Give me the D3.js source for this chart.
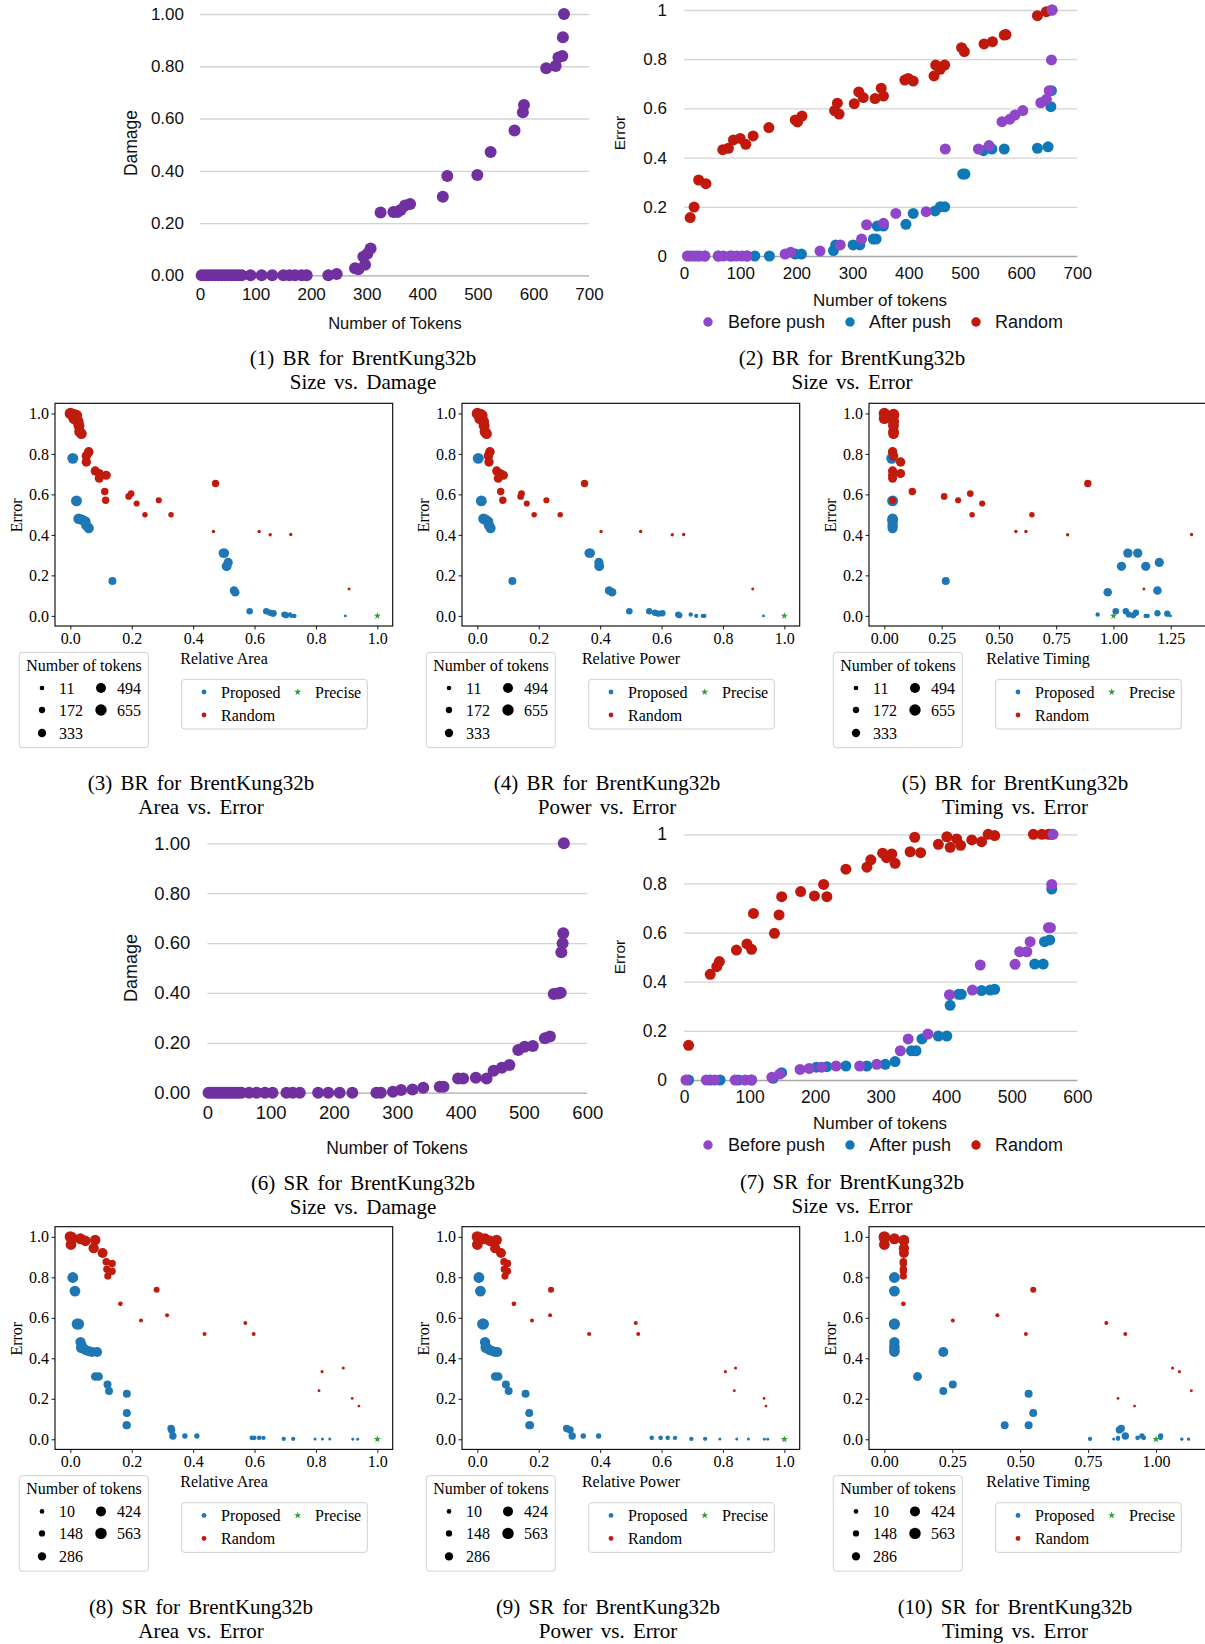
<!DOCTYPE html>
<html>
<head>
<meta charset="utf-8">
<script src="https://cdn.jsdelivr.net/npm/d3@7"></script>
<style>
  body { margin: 0; background: #fff; }
</style>
</head>
<body>
<script>

// ---------- data: BR size vs damage (1) ----------
const brDmgTok = [3,9,15,21,27,33,39,45,51,57,63,69,75,91,111,130,150,161,171,183,192,231,246,279,285,294,297,301,307,325,348,355,361,369,378,437,445,499,523,566,581,583,623,640,645,652,653,655];
const brDmg = [0,0,0,0,0,0,0,0,0,0,0,0,0,0,0,0,0,0,0,0,0,0,0.005,0.027,0.023,0.071,0.04,0.082,0.103,0.24,0.242,0.242,0.25,0.267,0.273,0.301,0.38,0.384,0.472,0.554,0.624,0.652,0.792,0.801,0.834,0.839,0.911,1.0];

// ---------- data: BR size vs error (2) ----------
const brRandTok = [11,18,26,39,69,79,88,100,110,123,151,198,202,210,268,273,276,303,311,319,340,351,355,393,399,408,445,448,456,464,494,499,534,549,570,573,629,645,655];
const brRandErr = [0.156,0.199,0.309,0.294,0.432,0.438,0.472,0.478,0.454,0.488,0.522,0.553,0.545,0.569,0.591,0.621,0.577,0.619,0.667,0.644,0.64,0.682,0.65,0.715,0.722,0.711,0.732,0.776,0.759,0.776,0.847,0.831,0.862,0.871,0.898,0.9,0.977,0.993,1.0];
const brBeforeTok = [6,17,28,37,61,70,82,94,103,112,180,190,242,278,316,325,355,377,431,465,524,543,566,580,589,603,635,645,650,654,655];
const brBeforeErr = [0,0,0,0,0,0,0,0,0,0,0.008,0.015,0.02,0.045,0.069,0.127,0.133,0.173,0.18,0.435,0.435,0.449,0.546,0.556,0.573,0.591,0.623,0.637,0.672,0.797,1.0];
const brAfterTok = [11,23,37,61,85,112,126,152,198,209,266,270,301,313,337,342,344,355,395,408,447,456,464,496,500,533,548,570,629,648,653,654];
const brAfterErr = [0,0,0,0,0,0,0,0,0.008,0.008,0.022,0.045,0.045,0.045,0.069,0.069,0.122,0.122,0.129,0.173,0.183,0.2,0.2,0.333,0.333,0.428,0.435,0.435,0.438,0.444,0.607,0.672];

// ---------- data: BR area / power / timing vs error (3-5) ----------
const brPropErr   = [0.778,0.568,0.48,0.475,0.466,0.447,0.434,0.31,0.31,0.264,0.245,0.245,0.172,0.125,0.117,0.023,0.023,0.015,0.013,0.011,0.007,0.003,0.007,0,0,0,0];
const brPropTok   = [600,600,560,550,540,530,520,430,430,420,420,420,300,350,350,190,180,180,170,170,160,160,60,50,50,50,2];
const brPropArea  = [0.008,0.02,0.027,0.038,0.049,0.052,0.06,0.498,0.502,0.514,0.508,0.51,0.137,0.533,0.537,0.584,0.638,0.651,0.662,0.66,0.697,0.703,0.716,0.729,0.72,0.73,0.896];
const brPropPower = [0.003,0.013,0.02,0.027,0.035,0.038,0.043,0.364,0.368,0.396,0.396,0.398,0.114,0.429,0.439,0.495,0.56,0.579,0.603,0.59,0.654,0.658,0.695,0.713,0.734,0.74,0.932];
const brPropTime  = [0.032,0.036,0.036,0.036,0.036,0.036,0.036,1.063,1.106,1.2,1.035,1.141,0.268,1.192,0.975,1.01,1.054,1.098,1.192,1.235,1.067,1.086,0.931,1.144,1.15,1.14,1.249];

const brRndErr   = [1.0,0.995,0.99,0.975,0.96,0.94,0.91,0.9,0.81,0.79,0.76,0.716,0.703,0.695,0.68,0.654,0.614,0.604,0.59,0.571,0.571,0.555,0.5,0.5,0.417,0.417,0.401,0.402,0.133];
const brRndTok   = [655,650,640,630,620,600,580,570,450,440,430,410,400,400,390,250,260,200,200,250,160,160,120,120,20,20,18,18,3];
const brRndArea  = [0,0.01,0.02,0.012,0.025,0.028,0.03,0.036,0.06,0.052,0.052,0.081,0.094,0.117,0.094,0.473,0.112,0.198,0.19,0.115,0.288,0.216,0.243,0.328,0.466,0.615,0.651,0.718,0.908];
const brRndPower = [0,0.01,0.015,0.008,0.02,0.022,0.025,0.03,0.041,0.036,0.038,0.063,0.074,0.085,0.068,0.349,0.076,0.144,0.141,0.083,0.225,0.161,0.185,0.27,0.403,0.532,0.635,0.672,0.897];
const brRndTime  = [0,0.04,0.04,0,0.04,0.04,0.04,0.04,0.036,0.04,0.071,0.036,0.071,0.036,0.036,0.888,0.122,0.375,0.261,0.036,0.322,0.427,0.383,0.644,0.574,0.618,0.8,1.341,1.133];
const brSizeTicks = [11,172,333,494,655];

// ---------- data: SR size vs damage (6) ----------
const srDmgTok = [2,6,10,14,18,22,26,30,34,38,42,46,50,54,66,78,91,103,125,135,146,175,191,209,229,267,274,293,306,324,341,367,373,396,404,424,441,452,465,477,491,501,514,533,541,547,554,558,559,561,562,563];
const srDmg = [0,0,0,0,0,0,0,0,0,0,0,0,0,0,0,0,0,0,0,0,0,0,0,0,0,0,0,0.004,0.011,0.013,0.02,0.024,0.024,0.057,0.057,0.06,0.057,0.088,0.1,0.111,0.171,0.184,0.187,0.218,0.225,0.396,0.398,0.401,0.563,0.599,0.639,1.0];

// ---------- data: SR size vs error (7) ----------
const srRandTok = [7,40,50,54,80,96,103,106,138,145,149,178,199,213,218,247,279,285,303,309,317,322,345,352,361,388,401,406,416,422,439,454,464,474,533,546,556,561];
const srRandErr = [0.141,0.43,0.461,0.482,0.529,0.554,0.532,0.678,0.597,0.672,0.746,0.767,0.749,0.796,0.746,0.858,0.866,0.896,0.923,0.905,0.92,0.882,0.929,0.988,0.925,0.959,0.99,0.947,0.981,0.955,0.977,0.97,1.0,0.995,1.0,1.0,1.0,1.0];
const srBeforeTok = [3,34,47,78,93,103,134,146,177,191,210,232,268,294,330,342,372,405,440,452,505,512,523,528,556,559,561,563];
const srBeforeErr = [0,0,0,0,0,0,0.011,0.024,0.043,0.047,0.052,0.057,0.057,0.064,0.119,0.167,0.187,0.347,0.366,0.468,0.471,0.522,0.522,0.563,0.62,0.62,0.796,1.0];
const srAfterTok = [7,40,55,83,103,136,149,202,218,247,279,307,322,347,354,363,388,401,406,419,423,454,467,474,535,548,550,558,561];
const srAfterErr = [0,0,0,0,0,0.007,0.03,0.052,0.054,0.057,0.057,0.064,0.075,0.119,0.119,0.167,0.179,0.179,0.304,0.349,0.349,0.364,0.366,0.369,0.472,0.472,0.563,0.57,0.777];

// ---------- data: SR area / power / timing vs error (8-10) ----------
const srPropErr   = [0.799,0.732,0.569,0.569,0.48,0.46,0.452,0.44,0.435,0.431,0.431,0.31,0.31,0.271,0.238,0.225,0.13,0.069,0.069,0.053,0.046,0.016,0.016,0.016,0.007,0.007,0.007,0.007,0.002,0.002,0.001,0.001,0.001,0,0];
const srPropTok   = [510,500,520,520,460,455,450,445,440,435,430,305,300,260,255,258,258,258,250,216,210,216,100,95,61,61,58,55,50,48,6,6,5,2,2];
const srPropArea  = [0.008,0.015,0.022,0.027,0.033,0.038,0.035,0.05,0.06,0.07,0.087,0.081,0.092,0.121,0.126,0.184,0.184,0.184,0.183,0.328,0.33,0.334,0.373,0.412,0.591,0.599,0.615,0.629,0.695,0.726,0.797,0.821,0.845,0.92,0.936];
const srPropPower = [0.005,0.01,0.017,0.02,0.025,0.028,0.027,0.04,0.05,0.058,0.065,0.058,0.068,0.093,0.102,0.157,0.169,0.169,0.172,0.291,0.302,0.309,0.345,0.395,0.568,0.597,0.62,0.644,0.697,0.742,0.79,0.845,0.883,0.935,0.946];
const srPropTime  = [0.037,0.037,0.037,0.037,0.037,0.037,0.037,0.037,0.037,0.037,0.217,0.122,0.122,0.252,0.217,0.531,0.548,0.531,0.443,0.872,0.865,0.887,0.948,1.017,0.932,0.955,1.017,0.86,0.757,0.86,0.844,1.095,1.12,1.095,1.12];

const srRndErr   = [1.0,0.995,0.962,0.99,0.98,0.984,0.944,0.92,0.877,0.868,0.84,0.83,0.806,0.738,0.669,0.613,0.587,0.574,0.52,0.52,0.352,0.334,0.24,0.202,0.164];
const srRndTok   = [560,550,500,520,480,470,450,420,230,220,215,210,200,130,65,38,36,36,40,38,8,7,2,1,1];
const srRndArea  = [0,0.005,0.002,0.033,0.049,0.081,0.076,0.105,0.117,0.136,0.119,0.136,0.122,0.281,0.163,0.315,0.23,0.57,0.437,0.597,0.889,0.82,0.81,0.918,0.94];
const srRndPower = [0,0.005,0,0.025,0.041,0.063,0.058,0.077,0.087,0.098,0.088,0.098,0.09,0.24,0.119,0.237,0.178,0.516,0.364,0.524,0.841,0.808,0.837,0.934,0.94];
const srRndTime  = [0,0,0,0.037,0.072,0.072,0.072,0.072,0.07,0.07,0.07,0.07,0.07,0.548,0.07,0.416,0.252,0.817,0.521,0.887,1.061,1.086,1.13,0.86,0.921];
const srSizeTicks = [10,148,286,424,563];

// precise design (reference point)
const preciseRel = [1.0];
const preciseErr = [0.0];

// tick labels
const unitTicks = [0, 0.2, 0.4, 0.6, 0.8, 1.0];
const tok700Ticks = [0,100,200,300,400,500,600,700];
const tok600Ticks = [0,100,200,300,400,500,600];
const relTicks = [0, 0.2, 0.4, 0.6, 0.8, 1.0];
const timeTicks = [0, 0.25, 0.5, 0.75, 1.0, 1.25];

// ---------- setup ----------

const SANS = "'Liberation Sans', Arial, sans-serif";
const SERIF = "'Liberation Serif', 'Times New Roman', serif";
const colPurple = "#7030a0", colBefore = "#8f46c9", colAfter = "#0f78b8", colRand = "#c0190c";
const colProp = "#1f77b4", colRnd = "#c01b0d", colPrecise = "#2ca02c";
const MPL_FONT = 16;

const svg = d3.select("body")
              .append("svg")
                .attr("width", 1205)
                .attr("height", 1644)
                .style("background", "#fff");

const zip = (a, b) => a.map((v, i) => [v, b[i]]);

function caption(cx, y1, l1, l2) {
    const g = svg.append("g")
                  .attr("font-family", SERIF)
                  .attr("font-size", 21)
                  .attr("text-anchor", "middle")
                  .attr("word-spacing", "3px");
    g.append("text").attr("x", cx).attr("y", y1).attr("dy", "0.35em").text(l1);
    g.append("text").attr("x", cx).attr("y", y1 + 24).attr("dy", "0.35em").text(l2);
}

// spreadsheet style panels (1, 2, 6, 7)
function sheetPanel(o) {
    const x = d3.scaleLinear().domain([0, o.xMax]).range(o.xRange);
    const y = d3.scaleLinear().domain([0, 1]).range(o.yRange);
    const w = o.xRange[1] - o.xRange[0];
    const g = svg.append("g");

    const ya = g.append("g")
                .attr("transform", `translate(${o.xRange[0]},0)`)
                .call(d3.axisLeft(y).tickValues(unitTicks).tickSize(-w).tickPadding(o.yPad).tickFormat(o.yFmt));
    ya.select(".domain").remove();
    ya.selectAll(".tick line")
      .attr("stroke", d => d === 0 ? "#a8a8a8" : "#d4d4d4")
      .attr("stroke-width", 1.3);
    ya.selectAll("text")
      .attr("font-family", SANS).attr("font-size", o.tickSize).attr("fill", "#111");

    const xa = g.append("g")
                .attr("transform", `translate(0,${o.yRange[0]})`)
                .call(d3.axisBottom(x).tickValues(o.xTicks).tickSize(0).tickPadding(o.xPad));
    xa.select(".domain").remove();
    xa.selectAll("text")
      .attr("font-family", SANS).attr("font-size", o.tickSize).attr("fill", "#111");

    g.append("text")
        .attr("x", o.xTitle[0]).attr("y", o.xTitle[1]).attr("dy", "0.35em")
        .attr("text-anchor", "middle").attr("font-family", SANS).attr("font-size", o.titleSize)
        .attr("fill", "#111")
        .text(o.xLabel);
    g.append("text")
        .attr("transform", `translate(${o.yTitle[0]},${o.yTitle[1]}) rotate(-90)`)
        .attr("dy", "0.35em")
        .attr("text-anchor", "middle").attr("font-family", SANS).attr("font-size", o.yTitleSize)
        .attr("fill", "#111")
        .text(o.yLabel);

    o.series.forEach(s => {
        g.append("g").selectAll("circle")
          .data(zip(s.tok, s.val))
          .join("circle")
            .attr("cx", d => x(d[0]))
            .attr("cy", d => y(d[1]))
            .attr("r", o.r)
            .attr("fill", s.color);
    });

    if (o.legend) {
        const lg = g.append("g").attr("font-family", SANS).attr("font-size", 18).attr("fill", "#111");
        o.legend.forEach(e => {
            lg.append("circle").attr("cx", e.mx).attr("cy", o.legendY).attr("r", 4.7).attr("fill", e.color);
            lg.append("text").attr("x", e.tx).attr("y", o.legendY).attr("dy", "0.35em").text(e.label);
        });
    }
    caption(o.cap[0], o.cap[1], o.cap[2], o.cap[3]);
}

// matplotlib style panels (3-5, 8-10)
function paretoPanel(o) {
    const L = o.left, T = o.top, W = 337.7, H = 222.7, B = T + H;
    const x = d3.scaleLinear().domain(o.xDomain).range([L, L + W]);
    const y = d3.scaleLinear().domain([-0.05, 1.05]).range([B, T]);
    const area = d3.scaleLinear().domain([0, o.maxTok]).range([2, 32.5]);
    const r = t => Math.sqrt(area(t));
    const g = svg.append("g");

    const styleAxis = a => {
        a.select(".domain").remove();
        a.selectAll(".tick line").attr("stroke", "#000").attr("stroke-width", 0.9);
        a.selectAll("text").attr("font-family", SERIF).attr("font-size", MPL_FONT).attr("fill", "#000");
    };
    g.append("g").attr("transform", `translate(0,${B})`)
      .call(d3.axisBottom(x).tickValues(o.xTicks).tickFormat(d3.format(o.xFmt)).tickSize(3.5).tickPadding(3))
      .call(styleAxis);
    g.append("g").attr("transform", `translate(${L},0)`)
      .call(d3.axisLeft(y).tickValues(unitTicks).tickFormat(d3.format(".1f")).tickSize(3.5).tickPadding(2.5))
      .call(styleAxis);

    // points
    g.append("g").selectAll("circle")
      .data(o.prop.err.map((e, i) => ({x: o.prop.x[i], y: e, t: o.prop.tok[i]})))
      .join("circle")
        .attr("cx", d => x(d.x)).attr("cy", d => y(d.y)).attr("r", d => r(d.t))
        .attr("fill", colProp);
    g.append("g").selectAll("circle")
      .data(o.rnd.err.map((e, i) => ({x: o.rnd.x[i], y: e, t: o.rnd.tok[i]})))
      .join("circle")
        .attr("cx", d => x(d.x)).attr("cy", d => y(d.y)).attr("r", d => r(d.t))
        .attr("fill", colRnd);
    g.append("g").selectAll("path")
      .data(zip(preciseRel, preciseErr))
      .join("path")
        .attr("d", d3.symbol(d3.symbolStar, 16))
        .attr("transform", d => `translate(${x(d[0])},${y(d[1])})`)
        .attr("fill", colPrecise);

    // frame
    g.append("rect").attr("x", L).attr("y", T).attr("width", W).attr("height", H)
      .attr("fill", "none").attr("stroke", "#000").attr("stroke-width", 1.1);

    // axis labels
    g.append("text")
      .attr("x", L + 169).attr("y", B + 32).attr("dy", "0.35em")
      .attr("text-anchor", "middle").attr("font-family", SERIF).attr("font-size", MPL_FONT)
      .text(o.xLabel);
    g.append("text")
      .attr("transform", `translate(${L - 39},${T + 112}) rotate(-90)`)
      .attr("dy", "0.35em").attr("text-anchor", "middle")
      .attr("font-family", SERIF).attr("font-size", MPL_FONT)
      .text("Error");

    // size legend
    const sl = g.append("g").attr("font-family", SERIF).attr("font-size", MPL_FONT);
    sl.append("rect")
      .attr("x", L - 35.7).attr("y", B + 26.3).attr("width", 129).attr("height", 95.4).attr("rx", 3)
      .attr("fill", "#fff").attr("fill-opacity", 0.8).attr("stroke", "#d0d0d0");
    sl.append("text").attr("x", L + 29).attr("y", B + 39).attr("dy", "0.35em")
      .attr("text-anchor", "middle").text("Number of tokens");
    const rows = [B + 62, B + 84, B + 107];
    o.sizeTicks.forEach((t, i) => {
        const col = i < 3 ? 0 : 1;
        const ry = rows[i < 3 ? i : i - 3];
        const mx = col === 0 ? L - 13 : L + 46;
        const tx = col === 0 ? L + 4 : L + 62;
        sl.append("circle").attr("cx", mx).attr("cy", ry).attr("r", Math.max(r(t), 2.3)).attr("fill", "#000");
        sl.append("text").attr("x", tx).attr("y", ry).attr("dy", "0.35em").text(t);
    });

    // colour legend
    const cl = g.append("g").attr("font-family", SERIF).attr("font-size", MPL_FONT);
    cl.append("rect")
      .attr("x", L + 126.7).attr("y", B + 53.3).attr("width", 185.6).attr("height", 49.7).attr("rx", 3)
      .attr("fill", "#fff").attr("fill-opacity", 0.8).attr("stroke", "#d0d0d0");
    cl.append("circle").attr("cx", L + 149).attr("cy", B + 66).attr("r", 2.4).attr("fill", colProp);
    cl.append("text").attr("x", L + 166).attr("y", B + 66).attr("dy", "0.35em").text("Proposed");
    cl.append("path").attr("d", d3.symbol(d3.symbolStar, 16))
      .attr("transform", `translate(${L + 242.7},${B + 66})`).attr("fill", colPrecise);
    cl.append("text").attr("x", L + 260).attr("y", B + 66).attr("dy", "0.35em").text("Precise");
    cl.append("circle").attr("cx", L + 149).attr("cy", B + 89).attr("r", 2.4).attr("fill", colRnd);
    cl.append("text").attr("x", L + 166).attr("y", B + 89).attr("dy", "0.35em").text("Random");

    caption(L + o.capDx, B + 157, o.cap[0], o.cap[1]);
}

// ---------- draw ----------

const legend3 = [
    {label: "Before push", color: colBefore, mx: 708, tx: 728},
    {label: "After push",  color: colAfter,  mx: 850, tx: 869},
    {label: "Random",      color: colRand,   mx: 976, tx: 995}
];

sheetPanel({
    xMax: 700, xRange: [200, 589], yRange: [275.3, 14], xTicks: tok700Ticks,
    yFmt: d3.format(".2f"), yPad: 16, xPad: 12.5, tickSize: 17, titleSize: 16.5, yTitleSize: 17.5,
    xTitle: [395, 323], yTitle: [131, 143], xLabel: "Number of Tokens", yLabel: "Damage", r: 6,
    series: [{tok: brDmgTok, val: brDmg, color: colPurple}],
    cap: [363, 358, "(1) BR for BrentKung32b", "Size vs. Damage"]
});

sheetPanel({
    xMax: 700, xRange: [684, 1077.3], yRange: [256, 10], xTicks: tok700Ticks,
    yFmt: d => String(d), yPad: 17, xPad: 10.5, tickSize: 17, titleSize: 17, yTitleSize: 15.5,
    xTitle: [880, 300], yTitle: [620, 133], xLabel: "Number of tokens", yLabel: "Error", r: 5.5,
    series: [
        {tok: brRandTok, val: brRandErr, color: colRand},
        {tok: brAfterTok, val: brAfterErr, color: colAfter},
        {tok: brBeforeTok, val: brBeforeErr, color: colBefore}
    ],
    legend: legend3, legendY: 322,
    cap: [852, 358, "(2) BR for BrentKung32b", "Size vs. Error"]
});

sheetPanel({
    xMax: 600, xRange: [207.3, 587.3], yRange: [1092.7, 843.3], xTicks: tok600Ticks,
    yFmt: d3.format(".2f"), yPad: 17, xPad: 13.5, tickSize: 18.5, titleSize: 17.5, yTitleSize: 18,
    xTitle: [397, 1148], yTitle: [131, 968], xLabel: "Number of Tokens", yLabel: "Damage", r: 6,
    series: [{tok: srDmgTok, val: srDmg, color: colPurple}],
    cap: [363, 1183, "(6) SR for BrentKung32b", "Size vs. Damage"]
});

sheetPanel({
    xMax: 600, xRange: [684, 1077.3], yRange: [1080, 834.3], xTicks: tok600Ticks,
    yFmt: d => String(d), yPad: 17, xPad: 10.5, tickSize: 17.5, titleSize: 17, yTitleSize: 15.5,
    xTitle: [880, 1123], yTitle: [620, 957], xLabel: "Number of tokens", yLabel: "Error", r: 5.5,
    series: [
        {tok: srRandTok, val: srRandErr, color: colRand},
        {tok: srAfterTok, val: srAfterErr, color: colAfter},
        {tok: srBeforeTok, val: srBeforeErr, color: colBefore}
    ],
    legend: legend3, legendY: 1145,
    cap: [852, 1182, "(7) SR for BrentKung32b", "Size vs. Error"]
});

const relDom = [-0.05, 1.05];

paretoPanel({
    left: 55, top: 403.3, xDomain: relDom, xTicks: relTicks, xFmt: ".1f", xLabel: "Relative Area",
    maxTok: 655, sizeTicks: brSizeTicks,
    prop: {x: brPropArea, err: brPropErr, tok: brPropTok},
    rnd: {x: brRndArea, err: brRndErr, tok: brRndTok},
    capDx: 146, cap: ["(3) BR for BrentKung32b", "Area vs. Error"]
});
paretoPanel({
    left: 462, top: 403.3, xDomain: relDom, xTicks: relTicks, xFmt: ".1f", xLabel: "Relative Power",
    maxTok: 655, sizeTicks: brSizeTicks,
    prop: {x: brPropPower, err: brPropErr, tok: brPropTok},
    rnd: {x: brRndPower, err: brRndErr, tok: brRndTok},
    capDx: 145, cap: ["(4) BR for BrentKung32b", "Power vs. Error"]
});
paretoPanel({
    left: 869, top: 403.3, xDomain: [-0.067, 1.407], xTicks: timeTicks, xFmt: ".2f", xLabel: "Relative Timing",
    maxTok: 655, sizeTicks: brSizeTicks,
    prop: {x: brPropTime, err: brPropErr, tok: brPropTok},
    rnd: {x: brRndTime, err: brRndErr, tok: brRndTok},
    capDx: 146, cap: ["(5) BR for BrentKung32b", "Timing vs. Error"]
});
paretoPanel({
    left: 55, top: 1226.7, xDomain: relDom, xTicks: relTicks, xFmt: ".1f", xLabel: "Relative Area",
    maxTok: 563, sizeTicks: srSizeTicks,
    prop: {x: srPropArea, err: srPropErr, tok: srPropTok},
    rnd: {x: srRndArea, err: srRndErr, tok: srRndTok},
    capDx: 146, cap: ["(8) SR for BrentKung32b", "Area vs. Error"]
});
paretoPanel({
    left: 462, top: 1226.7, xDomain: relDom, xTicks: relTicks, xFmt: ".1f", xLabel: "Relative Power",
    maxTok: 563, sizeTicks: srSizeTicks,
    prop: {x: srPropPower, err: srPropErr, tok: srPropTok},
    rnd: {x: srRndPower, err: srRndErr, tok: srRndTok},
    capDx: 146, cap: ["(9) SR for BrentKung32b", "Power vs. Error"]
});
paretoPanel({
    left: 869, top: 1226.7, xDomain: [-0.0565, 1.1865], xTicks: timeTicks.filter(t => t <= 1.1865), xFmt: ".2f",
    xLabel: "Relative Timing", maxTok: 563, sizeTicks: srSizeTicks,
    prop: {x: srPropTime, err: srPropErr, tok: srPropTok},
    rnd: {x: srRndTime, err: srRndErr, tok: srRndTok},
    capDx: 146, cap: ["(10) SR for BrentKung32b", "Timing vs. Error"]
});

</script>
</body>
</html>
